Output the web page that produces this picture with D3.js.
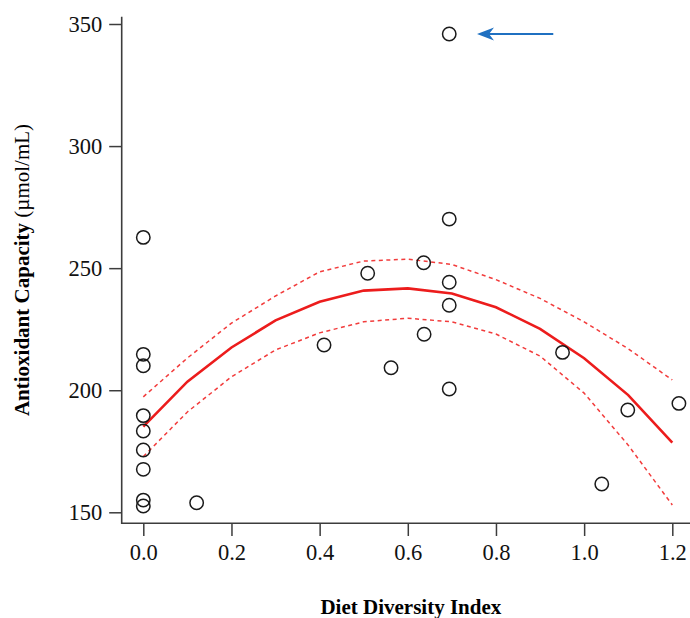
<!DOCTYPE html>
<html>
<head>
<meta charset="utf-8">
<script src="https://cdn.jsdelivr.net/npm/d3@7"></script>
<style>
  body { margin: 0; background: #fff; }
  svg text { font-family: "Liberation Serif", "Times New Roman", serif; }
</style>
</head>
<body>
<div class="chart"></div>
<script>
// observed points (diet diversity index, antioxidant capacity)
var pointX = [0, 0, 0, 0, 0, 0, 0, 0, 0,
    0.121, 0.41, 0.509, 0.562, 0.636, 0.637,
    0.694, 0.694, 0.694, 0.694, 0.694,
    0.951, 1.040, 1.099, 1.215];
var pointY = [262.6, 214.7, 210.0, 189.6, 183.3, 175.5, 167.6, 155.0, 152.6,
    153.9, 218.5, 247.9, 209.2, 252.2, 222.9,
    345.9, 270.1, 244.2, 234.8, 200.5,
    215.5, 161.6, 191.9, 194.6];

// fitted curve with upper / lower bands
var fitX = [0, 0.1, 0.2, 0.3, 0.4, 0.5, 0.6, 0.7, 0.8, 0.9, 1.0, 1.1, 1.2];
var fitY = [185.1, 203.5, 217.5, 228.6, 236.2, 240.8, 241.7, 239.6, 234.0, 225.1, 213.1, 198.0, 178.5];
var upperY = [197.3, 213.2, 227.5, 238.6, 248.5, 252.9, 253.7, 251.5, 245.3, 237.6, 228.0, 217.0, 204.2];
var lowerY = [172.8, 191.1, 205.5, 216.5, 223.5, 228.0, 229.5, 228.0, 223.0, 214.0, 198.8, 177.5, 153.0];

var xTicks = [0, 0.2, 0.4, 0.6, 0.8, 1.0, 1.2];
var yTicks = [150, 200, 250, 300, 350];

// arrow pointing at the outlier
var arrowFrom = { x: 0.93, y: 345.9 };
var arrowTo = { x: 0.757, y: 345.9 };

var svgWidth = 690, svgHeight = 618;
var plotLeft = 121.7, plotTop = 16.7, plotBottom = 523.3;

var svg = d3.select('div.chart')
    .append('svg')
    .attr('width', svgWidth)
    .attr('height', svgHeight);

var x = d3.scaleLinear().domain([0, 1.2]).range([143.3, 672.3]);
var y = d3.scaleLinear().domain([150, 350]).range([512.3, 24]);

// L shaped box
svg.append('path')
    .attr('d', 'M' + plotLeft + ',' + plotTop + 'V' + plotBottom + 'H' + svgWidth)
    .attr('fill', 'none')
    .attr('stroke', '#3c3c3c')
    .attr('stroke-width', 1.6);

var yAxis = svg.append('g')
    .attr('transform', 'translate(' + plotLeft + ',0)')
    .call(d3.axisLeft(y).tickValues(yTicks).tickSize(12.5).tickPadding(7).tickFormat(d3.format('d')));

var xAxis = svg.append('g')
    .attr('transform', 'translate(0,' + plotBottom + ')')
    .call(d3.axisBottom(x).tickValues(xTicks).tickSize(12.7).tickPadding(8).tickFormat(d3.format('.1f')));

[xAxis, yAxis].forEach(function (ax) {
    ax.select('.domain').remove();
    ax.selectAll('line').attr('stroke', '#3c3c3c').attr('stroke-width', 1.5);
    ax.selectAll('text').attr('fill', '#111').style('font-size', '22.5px')
        .style('font-family', '"Liberation Serif", serif');
});

// axis titles
svg.append('text')
    .attr('x', (plotLeft + 700) / 2)
    .attr('y', 614)
    .attr('text-anchor', 'middle')
    .style('font-size', '21px')
    .style('font-weight', 'bold')
    .text('Diet Diversity Index');

var yTitle = svg.append('text')
    .attr('transform', 'translate(29,' + (plotTop + plotBottom) / 2 + ') rotate(-90)')
    .attr('text-anchor', 'middle')
    .style('font-size', '21px');
yTitle.append('tspan').style('font-weight', 'bold').text('Antioxidant Capacity ');
yTitle.append('tspan').text('(\u00b5mol/mL)');

// curves
function makeLine(vals) {
    return d3.line()
        .x(function (d, i) { return x(fitX[i]); })
        .y(function (d) { return y(d); })(vals);
}

svg.append('path')
    .attr('d', makeLine(upperY))
    .attr('fill', 'none')
    .attr('stroke', '#f23c3c')
    .attr('stroke-width', 1.5)
    .attr('stroke-dasharray', '4,3.5');

svg.append('path')
    .attr('d', makeLine(lowerY))
    .attr('fill', 'none')
    .attr('stroke', '#f23c3c')
    .attr('stroke-width', 1.5)
    .attr('stroke-dasharray', '4,3.5');

svg.append('path')
    .attr('d', makeLine(fitY))
    .attr('fill', 'none')
    .attr('stroke', '#ec1c1c')
    .attr('stroke-width', 2.6);

// points
svg.selectAll('circle.pt')
    .data(pointX)
    .enter()
    .append('circle')
    .attr('class', 'pt')
    .attr('cx', function (d) { return x(d); })
    .attr('cy', function (d, i) { return y(pointY[i]); })
    .attr('r', 6.7)
    .attr('fill', 'none')
    .attr('stroke', '#1a1a1a')
    .attr('stroke-width', 1.5);

// arrow
var ax0 = x(arrowFrom.x), ay = y(arrowFrom.y), ax1 = x(arrowTo.x);
svg.append('line')
    .attr('x1', ax0).attr('y1', ay)
    .attr('x2', ax1 + 10).attr('y2', ay)
    .attr('stroke', '#1f70c1')
    .attr('stroke-width', 2);
svg.append('path')
    .attr('d', 'M' + ax1 + ',' + ay + 'L' + (ax1 + 17) + ',' + (ay - 6.5) +
        'L' + (ax1 + 12) + ',' + ay + 'L' + (ax1 + 17) + ',' + (ay + 6.5) + 'Z')
    .attr('fill', '#1f70c1');
</script>
</body>
</html>
